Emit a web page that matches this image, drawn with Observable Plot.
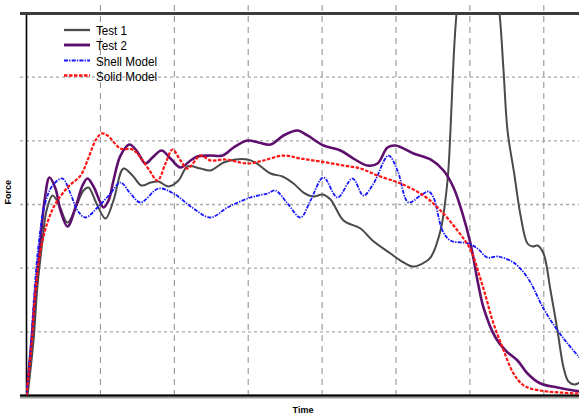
<!DOCTYPE html>
<html><head><meta charset="utf-8">
<script src="https://cdn.jsdelivr.net/npm/d3@7"></script>
<script src="https://cdn.jsdelivr.net/npm/@observablehq/plot@0.6"></script>
<style>
body{margin:0;background:#fff}
#wrap{position:relative;width:579px;height:418px;overflow:hidden}
#legend{position:absolute;left:0;top:0}
</style>
</head><body><div id="wrap"></div>
<script>
// ---- data (time in grid units, force in grid units) ----
const seriesNames = ["Test 1", "Test 2", "Shell Model", "Solid Model"];

const test1Time  = [0.014,0.095,0.149,0.217,0.271,0.352,0.433,0.555,0.677,0.771,0.839,0.947,1.069,1.177,1.313,1.434,1.556,1.678,1.786,1.922,2.057,2.179,2.355,2.490,2.666,2.828,2.991,3.099,3.302,3.464,3.613,3.748,3.884,4.005,4.114,4.290,4.520,4.682,4.926,5.061,5.223,5.359,5.467,5.602,5.697,5.737,5.778,5.819,5.900,6.103,6.306,6.401,6.455,6.509,6.600,6.685,6.779,6.847,6.915,6.996,7.091,7.185,7.267,7.334,7.416,7.483];
const test1Force = [0,0.864,1.728,2.434,2.906,3.141,3.016,2.717,2.984,3.220,3.267,3.016,2.780,3.063,3.565,3.455,3.298,3.345,3.361,3.283,3.377,3.597,3.565,3.534,3.659,3.707,3.707,3.659,3.487,3.440,3.330,3.188,3.125,3.157,3.078,2.749,2.623,2.434,2.230,2.120,2.026,2.073,2.167,2.591,3.377,4.162,5.261,6.0,6.832,7.46,6.832,6.0,5.104,4.162,3.480,2.830,2.387,2.340,2.356,2.230,1.649,1.021,0.440,0.220,0.173,0.204];

const test2Time  = [0,0.068,0.122,0.189,0.244,0.311,0.392,0.460,0.555,0.663,0.758,0.825,0.907,0.988,1.042,1.110,1.177,1.272,1.394,1.488,1.610,1.705,1.827,1.949,2.084,2.219,2.314,2.490,2.652,2.801,2.991,3.139,3.302,3.478,3.667,3.802,4.019,4.249,4.425,4.614,4.750,4.885,4.993,5.237,5.467,5.643,5.778,5.900,6.008,6.116,6.184,6.346,6.482,6.644,6.779,6.955,7.185,7.483];
const test2Force = [0,0.864,1.649,2.434,3.063,3.424,3.251,2.906,2.654,2.953,3.298,3.408,3.283,3.063,2.953,3.063,3.377,3.769,3.942,3.848,3.644,3.738,3.848,3.722,3.581,3.691,3.754,3.769,3.769,3.895,4.005,3.974,3.942,4.084,4.162,4.084,3.927,3.848,3.722,3.612,3.644,3.895,3.927,3.801,3.707,3.534,3.267,2.858,2.387,1.728,1.382,0.911,0.707,0.550,0.346,0.188,0.126,0.063];

const shellTime  = [0,0.054,0.108,0.162,0.244,0.352,0.487,0.595,0.690,0.798,0.961,1.137,1.272,1.407,1.543,1.786,1.989,2.260,2.490,2.720,3.031,3.261,3.369,3.532,3.708,3.843,4.019,4.208,4.411,4.560,4.696,4.899,5.020,5.169,5.332,5.440,5.507,5.629,5.737,5.981,6.103,6.238,6.373,6.590,6.779,6.996,7.158,7.321,7.483];
const shellForce = [0,0.707,1.649,2.356,2.984,3.298,3.408,3.173,2.906,2.796,2.953,3.173,3.345,3.173,3.031,3.251,3.173,2.937,2.796,2.953,3.110,3.173,3.220,3.016,2.796,3.063,3.424,3.110,3.408,3.141,3.330,3.769,3.534,3.031,3.141,3.204,3.110,2.591,2.434,2.387,2.309,2.167,2.183,2.089,1.853,1.366,1.068,0.817,0.597];

const solidTime  = [0,0.068,0.122,0.217,0.365,0.555,0.731,0.825,0.934,1.015,1.096,1.272,1.434,1.543,1.664,1.773,1.881,1.976,2.084,2.179,2.355,2.490,2.693,2.991,3.207,3.478,3.708,3.978,4.290,4.520,4.750,5.061,5.372,5.602,5.832,6.008,6.116,6.211,6.306,6.441,6.590,6.711,6.820,7.050,7.483];
const solidForce = [0,0.785,1.649,2.434,2.953,3.267,3.455,3.691,4.005,4.115,4.084,3.879,3.864,3.738,3.534,3.377,3.644,3.864,3.691,3.565,3.769,3.691,3.707,3.644,3.691,3.769,3.722,3.675,3.612,3.565,3.455,3.330,3.141,2.906,2.591,2.293,1.932,1.571,1.178,0.754,0.346,0.173,0.110,0.063,0.031];

const xGridTicks = [1, 2, 3, 4, 5, 6, 7];
const yGridTicks = [1, 2, 3, 4, 5];
const xLabel = "Time";
const yLabel = "Force";

// ---- styles ----
const styles = [
  {color: "#4a4a4a", width: 2,   dash: null},
  {color: "#5e0f6e", width: 2.6, dash: null},
  {color: "#1616ff", width: 1.8, dash: "4,1.2,1.3,1.2"},
  {color: "#ff1414", width: 2.2, dash: "3.5,1.5"}
];

const seriesData = [
  [test1Time, test1Force], [test2Time, test2Force],
  [shellTime, shellForce], [solidTime, solidForce]
];
const rows = [];
seriesData.forEach(([ts, fs], i) => ts.forEach((t, j) => rows.push({series: seriesNames[i], t, f: fs[j]})));

const font = "'Liberation Sans', Arial, sans-serif";

const lineMarks = seriesNames.map((name, i) => Plot.line(rows.filter(d => d.series === name), {
  x: "t", y: "f", stroke: styles[i].color, strokeWidth: styles[i].width,
  strokeDasharray: styles[i].dash, curve: "catmull-rom", clip: true,
  strokeLinejoin: "round", strokeLinecap: "butt"
}));

const chart = Plot.plot({
  width: 579, height: 418,
  marginLeft: 26, marginRight: 0, marginTop: 13, marginBottom: 23,
  x: {domain: [0, 7.483], axis: null},
  y: {domain: [0, 6], axis: null},
  style: {background: "white", overflow: "visible"},
  marks: [
    Plot.ruleX(xGridTicks, {stroke: "#8a8a8a", strokeWidth: 1, strokeDasharray: "6,5", insetTop: -8, insetBottom: -4}),
    Plot.ruleY(yGridTicks, {stroke: "#a8a8a8", strokeWidth: 1.3, strokeDasharray: "3,3", insetLeft: -6}),
    Plot.ruleX([0], {stroke: "#000", strokeWidth: 1.6}),
    Plot.ruleY([6], {stroke: "#3c3c3c", strokeWidth: 3, insetLeft: -6}),
    Plot.ruleY([0], {stroke: "#9a9a9a", strokeWidth: 4, dy: 1, insetLeft: -6}),
    Plot.ruleY([0], {stroke: "#000", strokeWidth: 2, insetLeft: -6}),
    ...lineMarks,
    Plot.text([yLabel], {frameAnchor: "left", dx: -18, rotate: -90, fontWeight: "bold", fontSize: 9, fontFamily: font, fill: "#000"}),
    Plot.text([xLabel], {frameAnchor: "bottom", dy: 17, fontWeight: "bold", fontSize: 9, fontFamily: font, fill: "#000"})
  ]
});

const wrap = document.getElementById("wrap");
wrap.appendChild(chart);

// ---- legend overlay ----
const legendWidths = [31, 31, 61, 61];
const legendY = [30, 45, 60.5, 75.5];
const leg = d3.select(wrap).append("svg").attr("id", "legend").attr("width", 200).attr("height", 90);
seriesNames.forEach((name, i) => {
  const y = legendY[i];
  leg.append("line").attr("x1", 64).attr("x2", 90).attr("y1", y).attr("y2", y)
    .attr("stroke", styles[i].color).attr("stroke-width", styles[i].width + 0.3)
    .attr("stroke-dasharray", styles[i].dash);
  leg.append("text").attr("x", 96).attr("y", y + 5)
    .attr("font-family", font).attr("font-size", 13.5).attr("fill", "#000")
    .attr("textLength", legendWidths[i]).attr("lengthAdjust", "spacingAndGlyphs")
    .text(name);
});
</script>
</body></html>
